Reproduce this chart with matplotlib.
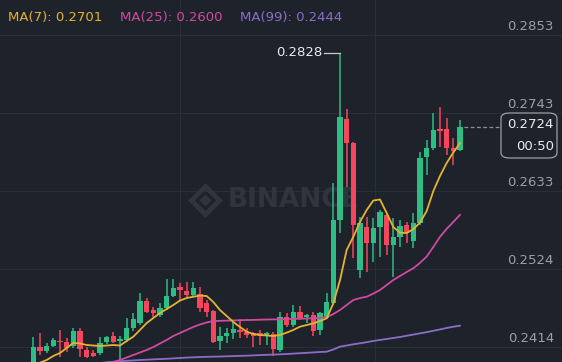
import math

import matplotlib
matplotlib.use('Agg')
import matplotlib.pyplot as plt
from matplotlib.patches import FancyBboxPatch
import matplotlib.transforms as mtransforms

matplotlib.rc('font', size=9.5, family=['DejaVu Sans'])

BG = '#1e222a'
GRID = '#2a2e36'
UP = '#2ebd85'
DOWN = '#f6465d'
AXIS_TEXT = '#9aa0a8'

# candles, oldest first
opens = [0.23845, 0.2414, 0.24088, 0.24154, 0.24229, 0.24215, 0.24154, 0.2437, 0.24098, 0.24052,
         0.24052, 0.24211, 0.24295, 0.24225, 0.24239, 0.24408, 0.24477, 0.24791, 0.2466, 0.2459,
         0.24688, 0.24857, 0.24984, 0.24932, 0.24871, 0.24885, 0.24763, 0.24646, 0.24225, 0.24295,
         0.24337, 0.2438, 0.24351, 0.24333, 0.24333, 0.24288, 0.24323, 0.24098, 0.24566, 0.24449,
         0.24636, 0.24562, 0.2459, 0.2438, 0.24555, 0.24759, 0.25927, 0.27348, 0.27006, 0.25223,
         0.25832, 0.25599, 0.25832, 0.25997, 0.25575, 0.25683, 0.25856, 0.25625, 0.25884, 0.26809,
         0.26936, 0.27204, 0.27204, 0.26933, 0.26912]
closes = [0.2414, 0.24088, 0.24154, 0.24239, 0.24211, 0.24122, 0.2437, 0.24112, 0.24004, 0.24014,
          0.24193, 0.24281, 0.24215, 0.24246, 0.24408, 0.24535, 0.24791, 0.24636, 0.24618, 0.24688,
          0.24857, 0.2497, 0.24942, 0.24871, 0.24965, 0.24688, 0.24632, 0.24215, 0.24295, 0.24342,
          0.24389, 0.24356, 0.24309, 0.24295, 0.24295, 0.24337, 0.24112, 0.24562, 0.24449, 0.24636,
          0.24555, 0.2459, 0.24365, 0.24615, 0.24773, 0.25927, 0.27376, 0.27006, 0.25857, 0.25884,
          0.25599, 0.2581, 0.26043, 0.25575, 0.25692, 0.25842, 0.25748, 0.25884, 0.26796, 0.26936,
          0.27194, 0.27184, 0.26936, 0.26902, 0.2724]
highs = [0.24285, 0.24337, 0.24201, 0.24267, 0.2438, 0.24267, 0.24408, 0.24408, 0.24144, 0.24098,
         0.24285, 0.24295, 0.24351, 0.24295, 0.24548, 0.24619, 0.24895, 0.24829, 0.24707, 0.24759,
         0.25096, 0.25096, 0.2504, 0.25054, 0.25054, 0.24984, 0.24801, 0.2466, 0.24426, 0.24408,
         0.24492, 0.24539, 0.24408, 0.24356, 0.2438, 0.24356, 0.24356, 0.24632, 0.24618, 0.24731,
         0.24717, 0.24604, 0.24632, 0.24636, 0.24895, 0.26443, 0.2828, 0.27488, 0.27029, 0.25973,
         0.25973, 0.25951, 0.26067, 0.26021, 0.2595, 0.25927, 0.25903, 0.26025, 0.26888, 0.27053,
         0.27429, 0.27522, 0.27359, 0.27081, 0.27339]
lows = [0.23817, 0.24028, 0.2406, 0.2414, 0.24, 0.2407, 0.24126, 0.24, 0.23985, 0.23993,
        0.24028, 0.24182, 0.24197, 0.23957, 0.24215, 0.24365, 0.24449, 0.24618, 0.24558, 0.24566,
        0.2466, 0.24843, 0.24801, 0.24843, 0.24843, 0.24636, 0.24566, 0.24192, 0.24098, 0.24197,
        0.24253, 0.24262, 0.24267, 0.24147, 0.24168, 0.24168, 0.24014, 0.24074, 0.24426, 0.24426,
        0.2452, 0.24477, 0.24295, 0.24309, 0.24534, 0.24731, 0.25744, 0.26395, 0.25388, 0.25106,
        0.25195, 0.25336, 0.2541, 0.25434, 0.25129, 0.25552, 0.25608, 0.25529, 0.25856, 0.2656,
        0.26912, 0.2695, 0.26842, 0.26701, 0.26902]

nan = float('nan')
ma7 = [0.2385, 0.2392, 0.23957, 0.24014, 0.24056, 0.24126, 0.24197, 0.2419, 0.24168, 0.24161,
       0.24154, 0.24161, 0.24168, 0.24161, 0.24225, 0.24285, 0.2438, 0.24477, 0.24548, 0.24618,
       0.24674, 0.24731, 0.24794, 0.24829, 0.24847, 0.24864, 0.24857, 0.24773, 0.2466, 0.24576,
       0.24492, 0.24421, 0.24356, 0.24323, 0.24309, 0.24302, 0.24295, 0.24309, 0.24342, 0.2438,
       0.24426, 0.24449, 0.24473, 0.24506, 0.24543, 0.24755, 0.25081, 0.25505, 0.25692, 0.25899,
       0.26067, 0.26201, 0.26215, 0.26025, 0.25828, 0.25748, 0.25743, 0.25799, 0.2589, 0.26053,
       0.26334, 0.26546, 0.26729, 0.26877, 0.2701]
ma25 = [nan] * 10 + [
       0.23845, 0.23887, 0.23929, 0.23957, 0.23992, 0.24028, 0.24063, 0.24098, 0.2414, 0.2419,
       0.24239, 0.24295, 0.24337, 0.2438, 0.24422, 0.24457, 0.24485, 0.24506, 0.24508, 0.24511,
       0.24514, 0.24517, 0.2452, 0.24521, 0.24524, 0.24527, 0.24528, 0.2453, 0.24533, 0.24535,
       0.24538, 0.24541, 0.24544, 0.24548, 0.24558, 0.24604, 0.2466, 0.24731, 0.24801, 0.24829,
       0.24847, 0.24892, 0.24942, 0.25012, 0.25083, 0.25139, 0.25195, 0.25248, 0.25323, 0.25412,
       0.25548, 0.2569, 0.25802, 0.259, 0.26]
ma99 = [nan] * 10 + [
       0.23915, 0.23925, 0.23932, 0.23939, 0.23946, 0.23951, 0.23957, 0.23961, 0.23966, 0.2397,
       0.23974, 0.2398, 0.23985, 0.23991, 0.23995, 0.23999, 0.24002, 0.24004, 0.24006, 0.24009,
       0.24012, 0.24015, 0.24018, 0.24022, 0.24026, 0.2403, 0.24033, 0.24037, 0.24041, 0.24047,
       0.24053, 0.24058, 0.24064, 0.2407, 0.24074, 0.24105, 0.24145, 0.24161, 0.24178, 0.24192,
       0.24208, 0.24225, 0.24239, 0.24253, 0.24267, 0.24281, 0.24298, 0.24315, 0.24332, 0.24349,
       0.24368, 0.24387, 0.24408, 0.24425, 0.2444]

price_ticks = [0.2853, 0.2743, 0.2633, 0.2524, 0.2414]
ma_labels = ['MA(7): 0.2701', 'MA(25): 0.2600', 'MA(99): 0.2444']
ma_colors = ['#e3b431', '#d04aa0', '#8a6dc8']
last_price = '0.2724'
countdown = '00:50'
peak_label = '0.2828'

W, H = 562, 362
fig = plt.figure(figsize=(W / 100, H / 100), dpi=100, facecolor=BG)
ax = fig.add_axes([0, 0, 1, 1], facecolor=BG)
ax.set_xlim(-5.0, 79.3)
ax.set_ylim(0.23929, 0.29022)
ax.set_axis_off()

# grid
for p in price_ticks:
    ax.axhline(p, color=GRID, lw=0.8, zorder=0)
for xg in [22.0, 51.25]:
    ax.axvline(xg, color=GRID, lw=0.8, zorder=0)

# watermark
ax.plot([0.365], [0.447], marker='D', ms=14, mfc='none', mec='#30343c', mew=3.5,
        transform=ax.transAxes, zorder=1)
ax.plot([0.365], [0.447], marker='D', ms=5, color='#30343c', transform=ax.transAxes, zorder=1)
ax.text(0.405, 0.447, 'BINANCE', transform=ax.transAxes, color='#30343c', fontsize=19,
        fontweight='bold', va='center', ha='left', zorder=1)

# candles
xs = list(range(len(opens)))
for i in xs:
    o, c, h, l = opens[i], closes[i], highs[i], lows[i]
    col = UP if c >= o else DOWN
    ax.vlines(i, l, h, color=col, lw=1.1, zorder=3)
    body = max(abs(c - o), 0.00012)
    ax.bar(i, body, bottom=min(o, c), width=0.78, color=col, lw=0, zorder=3)

# moving averages
ax.plot(xs, ma99, color=ma_colors[2], lw=1.3, zorder=4)
ax.plot(xs, ma25, color=ma_colors[1], lw=1.3, zorder=4)
ax.plot(xs, ma7, color=ma_colors[0], lw=1.3, zorder=4)

# price axis labels
blend = mtransforms.blended_transform_factory(ax.transAxes, ax.transData)
for p in price_ticks:
    ax.text(554 / W, p + 0.0003, f'{p:.4f}', transform=blend, ha='right', va='bottom',
            color=AXIS_TEXT, fontsize=9.5)

# peak marker
peak_i = highs.index(max(highs))
ax.plot([peak_i - 2.4, peak_i], [max(highs), max(highs)], color='#c8ccd2', lw=0.9, zorder=5)
ax.text(peak_i - 2.6, max(highs), peak_label, color='#eaecef', ha='right', va='center',
        fontsize=9.5, zorder=5)

# last price line and box
last = closes[-1]
ax.plot([len(opens) - 0.4, 70.0], [last, last], color='#8a8f98', lw=0.9, ls=(0, (3, 2)), zorder=5)
box = FancyBboxPatch((501 / W, 1 - 158 / H), 56 / W, 45 / H,
                     boxstyle='round,pad=0,rounding_size=0.015', transform=ax.transAxes,
                     facecolor=BG, edgecolor='#9aa0a8', lw=0.9, zorder=6, clip_on=False)
ax.add_patch(box)
ax.text(554 / W, 1 - 125 / H, last_price, transform=ax.transAxes, color='#eaecef',
        ha='right', va='center', fontsize=9.5, zorder=7)
ax.text(554 / W, 1 - 146 / H, countdown, transform=ax.transAxes, color='#eaecef',
        ha='right', va='center', fontsize=9.5, zorder=7)

# moving average legend
x0 = 8
for label, col, dx in zip(ma_labels, ma_colors, [0, 112, 232]):
    ax.text((x0 + dx) / W, 1 - 18 / H, label, transform=ax.transAxes, color=col,
            ha='left', va='center', fontsize=9.5, zorder=7)

fig.savefig('out.png', dpi=100, facecolor=BG)
